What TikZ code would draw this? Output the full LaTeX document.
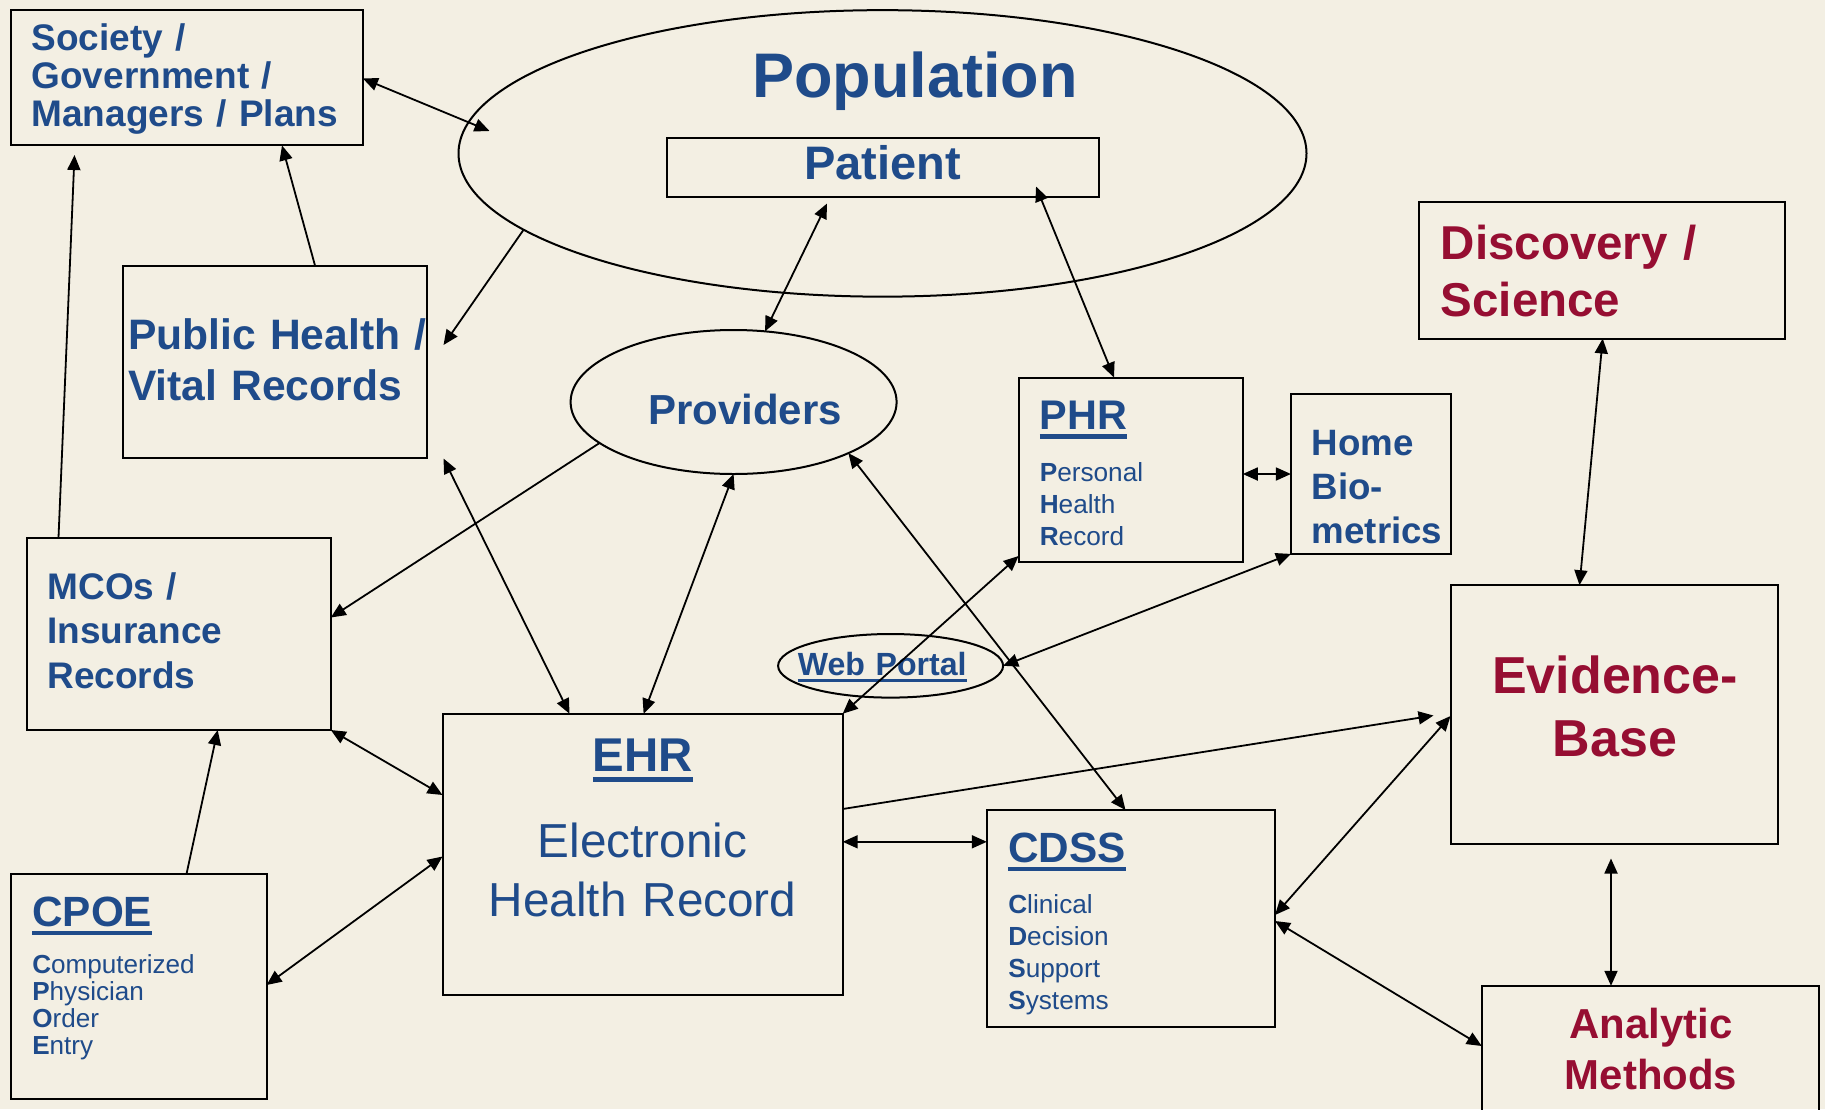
\documentclass[tikz,border=0pt]{standalone}
\usepackage{fontspec}
\setmainfont{Liberation Sans}
\usetikzlibrary{arrows.meta,shapes.geometric}

\definecolor{bgcream}{RGB}{243,239,227}
\definecolor{txtblue}{RGB}{31,75,138}
\definecolor{txtred}{RGB}{150,14,50}

% underlined heading word with a heavy rule
\newcommand\ulword[1]{\sbox0{#1}\rlap{\rule[-0.22em]{\wd0}{0.1em}}\usebox0}

\tikzset{
  box/.style={draw=black, line width=2pt, rectangle, inner sep=0pt, outer sep=0pt},
  oval/.style={draw=black, line width=2pt, ellipse, inner sep=0pt, outer sep=0pt},
  lbl/.style={inner sep=0pt, outer sep=0pt, text=txtblue, anchor=base west,
              text width=420pt, align=left},
  clbl/.style={inner sep=0pt, outer sep=0pt, text=txtblue, anchor=base,
               text width=420pt, align=center},
  conn/.style={line width=1.8pt, draw=black},
  dbl/.style={conn, {Triangle[length=15pt,width=13pt]}-{Triangle[length=15pt,width=13pt]}},
  one/.style={conn, -{Triangle[length=15pt,width=13pt]}},
}

\begin{document}
\begin{tikzpicture}[x=1pt, y=-1pt]
\fill[bgcream] (0,0) rectangle (1825,1109);
\useasboundingbox (0,0) rectangle (1825,1109);
\clip (0,0) rectangle (1825,1109);

% ---- shapes ----
\node[oval, minimum width=848pt, minimum height=286.5pt] (pop) at (882.5,153.4) {};
\node[box, minimum width=432pt, minimum height=58.7pt] (patient) at (882.9,167.35) {};
\node[box, minimum width=352.2pt, minimum height=135.4pt] (society) at (186.8,77.7) {};
\node[box, minimum width=304.7pt, minimum height=192pt] (pubh) at (274.85,361.5) {};
\node[oval, minimum width=326pt, minimum height=144pt] (prov) at (733.6,402) {};
\node[box, minimum width=224.2pt, minimum height=184.8pt] (phr) at (1130.7,469.9) {};
\node[box, minimum width=160.3pt, minimum height=160.3pt] (home) at (1371.05,473.75) {};
\node[box, minimum width=365.8pt, minimum height=136.7pt] (disc) at (1601.9,270.15) {};
\node[box, minimum width=304pt, minimum height=192.3pt] (mco) at (178.8,633.85) {};
\node[oval, minimum width=225pt, minimum height=63.6pt] (web) at (890.6,665.8) {};
\node[box, minimum width=400.2pt, minimum height=281pt] (ehr) at (642.6,854.2) {};
\node[box, minimum width=288.2pt, minimum height=216.7pt] (cdss) at (1130.9,918.35) {};
\node[box, minimum width=256pt, minimum height=224.7pt] (cpoe) at (138.6,986.35) {};
\node[box, minimum width=327.9pt, minimum height=258.4pt] (evid) at (1614.45,714.4) {};
\node[box, minimum width=337.5pt, minimum height=144.2pt] (anal) at (1650.5,1057.9) {};

% ---- texts ----
\node[lbl, font=\fontsize{37}{38.3}\selectfont\bfseries] (societyT) at (31.5,50.3)
  {Society /\\Government /\\Managers / Plans};
\node[clbl, font=\fontsize{63}{70}\selectfont\bfseries] (popT) at (914.9,97.5) {Population};
\node[clbl, font=\fontsize{47}{52}\selectfont\bfseries] (patientT) at (882.5,179.5) {Patient};
\node[lbl, font=\fontsize{42.6}{51.4}\selectfont\bfseries] (pubhT) at (128,349)
  {Public Health /\\Vital Records};
\node[clbl, font=\fontsize{42}{48}\selectfont\bfseries] (provT) at (745,424.5) {Providers};
\node[lbl, font=\fontsize{41.4}{48}\selectfont\bfseries] (phrT) at (1039.8,429.5) {\ulword{PHR}};
\node[lbl, font=\fontsize{26.2}{32}\selectfont] (phrS) at (1039.8,481.8)
  {\textbf{P}ersonal\\\textbf{H}ealth\\\textbf{R}ecord};
\node[lbl, font=\fontsize{36.7}{44}\selectfont\bfseries] (homeT) at (1311.8,455.5)
  {Home\\Bio-\\metrics};
\node[lbl, text=txtred, font=\fontsize{47.5}{57.5}\selectfont\bfseries] (discT) at (1440.8,259)
  {Discovery /\\Science};
\node[lbl, font=\fontsize{37}{44.6}\selectfont\bfseries] (mcoT) at (47.5,599)
  {MCOs /\\Insurance\\Records};
\node[clbl, font=\fontsize{32.1}{38}\selectfont\bfseries] (webT) at (882.2,675.2) {\ulword{Web Portal}};
\node[clbl, font=\fontsize{47.4}{54}\selectfont\bfseries] (ehrT) at (643,771.5) {\ulword{EHR}};
\node[clbl, font=\fontsize{47.7}{58.5}\selectfont] (ehrS) at (642.6,857.5)
  {Electronic\\Health Record};
\node[lbl, font=\fontsize{42.3}{48}\selectfont\bfseries] (cdssT) at (1008.3,862) {\ulword{CDSS}};
\node[lbl, font=\fontsize{26.2}{32}\selectfont] (cdssS) at (1008.3,913.5)
  {\textbf{C}linical\\\textbf{D}ecision\\\textbf{S}upport\\\textbf{S}ystems};
\node[lbl, font=\fontsize{42.3}{48}\selectfont\bfseries] (cpoeT) at (32.3,926) {\ulword{CPOE}};
\node[lbl, font=\fontsize{26.1}{27}\selectfont] (cpoeS) at (32.3,973.3)
  {\textbf{C}omputerized\\\textbf{P}hysician\\\textbf{O}rder\\\textbf{E}ntry};
\node[clbl, text=txtred, font=\fontsize{52}{63.8}\selectfont\bfseries] (evidT) at (1615,693)
  {Evidence-\\Base};
\node[clbl, text=txtred, font=\fontsize{41.9}{51}\selectfont\bfseries] (analT) at (1651,1038)
  {Analytic\\Methods};

% ---- free connector ends ----
\coordinate (popIn) at (489.5,131);
\coordinate (phTipA) at (443.5,345);
\coordinate (phTipB) at (443.5,458.5);
\coordinate (patBot) at (827,203.5);
\coordinate (patIn) at (1036,186.5);
\coordinate (socGap) at (74.5,155);
\coordinate (evidL) at (1433.5,715.5);
\coordinate (evidB) at (1611,858.5);

% ---- connectors ----
\draw[dbl] (society.east |- 0,78.5) -- (popIn);
\draw[one] (315,0 |- pubh.north) -- (282,0 |- society.south);
\draw[one] (58.5,0 |- mco.north) -- (socGap);
\draw[one] (pop.192) -- (phTipA);
\draw[dbl] (patBot) -- (prov.66);
\draw[dbl] (patIn) -- (1114,0 |- phr.north);
\draw[one] (prov.197) -- (mco.east |- 0,617.5);
\draw[dbl] (prov.south) -- (643.6,0 |- ehr.north);
\draw[dbl] (phTipB) -- (569.5,0 |- ehr.north);
\draw[dbl] (prov.-24) -- (1125.5,0 |- cdss.north);
\draw[dbl] (phr.east |- 0,474) -- (home.west |- 0,474);
\draw[dbl] (ehr.north east) -- (phr.west |- 0,556);
\draw[dbl] (web.east) -- (home.south west);
\draw[one] (ehr.east |- 0,809) -- (evidL);
\draw[dbl] (ehr.east |- 0,841.8) -- (cdss.west |- 0,841.8);
\draw[dbl] (cdss.east |- 0,915) -- (evid.west |- 0,716);
\draw[dbl] (cdss.east |- 0,921) -- (anal.west |- 0,1046);
\draw[dbl] (1602.7,0 |- disc.south) -- (1579.5,0 |- evid.north);
\draw[dbl] (evidB) -- (1611,0 |- anal.north);
\draw[dbl] (mco.south east) -- (ehr.west |- 0,795);
\draw[one] (186.5,0 |- cpoe.north) -- (217.7,0 |- mco.south);
\draw[dbl] (ehr.west |- 0,856.5) -- (cpoe.east |- 0,985);
\end{tikzpicture}
\end{document}
